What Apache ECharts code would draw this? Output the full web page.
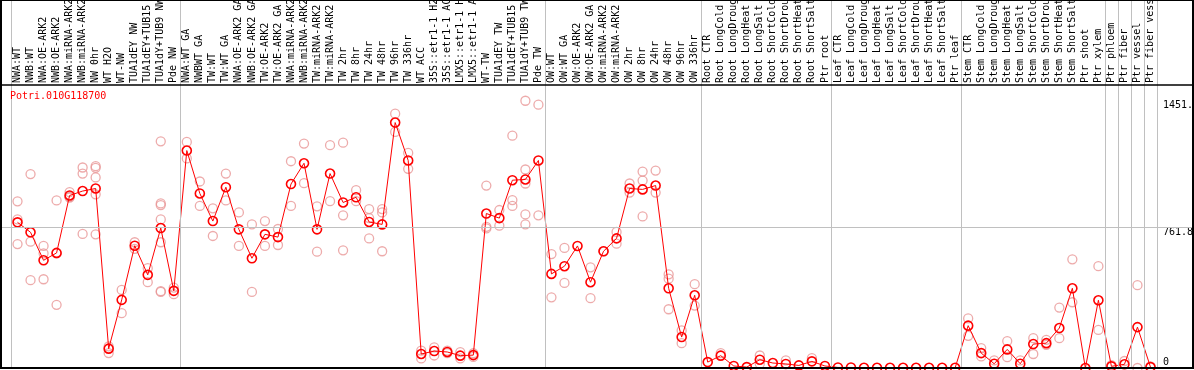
<!DOCTYPE html>
<html>
<head>
<meta charset="utf-8">
<script src="https://cdn.jsdelivr.net/npm/echarts@6/dist/echarts.min.js"></script>
<style>
html,body{margin:0;padding:0;background:#fff;}
#c{width:1194px;height:370px;}
</style>
</head>
<body>
<div id="c"></div>
<script>
const geneName = 'Potri.010G118700';

const categories = [
  'NWA:WT','NWB:WT','NWA:OE-ARK2','NWB:OE-ARK2','NWA:miRNA-ARK2','NWB:miRNA-ARK2','NW 0hr','WT H2O','WT-NW','TUA1dEY NW','TUA1dEY+TUB15 NW','TUA1dY+TUB9 NW','Pde NW',
  'NWA:WT GA','NWBWT GA','TW:WT','TW:WT GA','NWA:OE-ARK2 GA','NWB:OE-ARK2 GA','TW:OE-ARK2','TW:OE-ARK2 GA','NWA:miRNA-ARK2 GA','NWB:miRNA-ARK2 GA','TW:miRNA-ARK2','TW:miRNA-ARK2 GA','TW 2hr','TW 8hr','TW 24hr','TW 48hr','TW 96hr','TW 336hr','WT ACC','35S::etr1-1 H2O','35S::etr1-1 ACC','LMX5::etr1-1 H2O','LMX5::etr1-1 ACC','WT-TW','TUA1dEY TW','TUA1dEY+TUB15 TW','TUA1dY+TUB9 TW','Pde TW',
  'OW:WT','OW:WT GA','OW:OE-ARK2','OW:OE-ARK2 GA','OW:miRNA-ARK2','OW:miRNA-ARK2 GA','OW 2hr','OW 8hr','OW 24hr','OW 48hr','OW 96hr','OW 336hr',
  'Root CTR','Root LongCold','Root LongDrought','Root LongHeat','Root LongSalt','Root ShortCold','Root ShortDrought','Root ShortHeat','Root ShortSalt','Ptr root',
  'Leaf CTR','Leaf LongCold','Leaf LongDrought','Leaf LongHeat','Leaf LongSalt','Leaf ShortCold','Leaf ShortDrought','Leaf ShortHeat','Leaf ShortSalt','Ptr leaf',
  'Stem CTR','Stem LongCold','Stem LongDrought','Stem LongHeat','Stem LongSalt','Stem ShortCold','Stem ShortDrought','Stem ShortHeat','Stem ShortSalt','Ptr shoot','Ptr xylem',
  'Ptr phloem','Ptr fiber','Ptr vessel','Ptr fiber vessel'
];

// index of the first category of each group (vertical separators)
const groupStarts = [0, 13, 41, 53, 63, 73, 84, 85, 86, 87];

const meanValues = [
  791, 737, 585, 625, 937, 961, 975, 105, 370, 664, 506, 760, 419,
  1181, 948, 798, 982, 753, 596, 726, 711, 999, 1112, 753, 1056, 899, 927, 793, 780, 1333, 1127, 76, 92, 87, 67, 70, 839, 814, 1020, 1024, 1127,
  511, 553, 663, 466, 634, 704, 975, 970, 991, 433, 168, 395,
  32, 67, 11, 5, 45, 27, 22, 14, 36, 11,
  3, 3, 1, 1, 1, 1, 1, 1, 1, 1,
  230, 81, 23, 101, 23, 130, 135, 217, 433, 0, 368,
  9, 20, 222, 5
];

const replicateValues = [
  [905, 807, 673], [1053, 686, 477], [663, 623, 482], [910, 343, 622], [955, 930, 926], [1089, 1056, 728],
  [1096, 1087, 1035, 943, 726], [117, 81], [424, 298], [683, 647], [542, 466], [1231, 894, 885, 807, 683, 417, 413], [437, 401],
  [1228, 1138], [1013, 880], [867, 717], [1056, 910], [845, 663], [780, 413], [798, 663], [755, 668], [1123, 880], [1219, 1004],
  [878, 632], [1210, 906], [1224, 829, 639], [966, 906], [863, 814, 704], [863, 845, 634], [1381, 1282], [1168, 1082],
  [94, 52], [112, 68], [94, 81], [86, 52], [80, 60], [991, 767, 758], [858, 773], [1262, 912, 880], [1451.4, 1078, 1002, 834, 780], [1430, 829],
  [619, 384], [652, 462], [], [547, 379], [634], [739, 675], [1002, 953], [1067, 1018, 823], [1072, 953], [509, 485, 319], [204, 135], [455, 339],
  [], [81], [], [], [68, 23], [], [41], [], [54], [],
  [], [], [], [], [], [], [], [], [], [],
  [269, 175], [108, 63], [41], [146, 59], [41], [162, 76], [153, 126], [328, 162], [590, 357], [], [553, 207],
  [16], [38], [450, 0], [9]
];

const yTickLabels = [0, 761.8, 1451.4];
const yGridValue = 761.8;

// layout
const W = 1194;
const catLeft = 11, catRight = 37;
const plotLeft = 1, plotRight = 1, plotTop = 85, plotBottom = 2;
const n = categories.length;
const band = (W - catLeft - catRight) / n;
const xMin = -0.5 - (catLeft - plotLeft) / band;
const xMax = n - 0.5 + (catRight - plotRight) / band;
const yMax = 1537;

const mono = 'DejaVu Sans Mono';

const meanData = meanValues.map((v, i) => [i, v]);
const repData = [];
replicateValues.forEach((arr, i) => arr.forEach(v => repData.push([i, v])));
const boundaryLines = groupStarts.map(s => ({ xAxis: s - 0.5 })).concat([{ xAxis: n - 0.5 }]);

const chart = echarts.init(document.getElementById('c'), null, { renderer: 'canvas' });
chart.setOption({
  animation: false,
  backgroundColor: '#fff',
  title: {
    text: geneName, left: 10, top: 91, padding: 0,
    textStyle: { color: '#ff0000', fontFamily: mono, fontSize: 10, fontWeight: 'normal' }
  },
  grid: [
    { left: catLeft, right: catRight, top: 0, height: plotTop, containLabel: false, outerBoundsMode: 'none' },
    { left: plotLeft, right: plotRight, top: plotTop, bottom: plotBottom, containLabel: false, outerBoundsMode: 'none' }
  ],
  xAxis: [
    {
      gridIndex: 0, type: 'category', data: categories, position: 'bottom', boundaryGap: true,
      axisLine: { show: false }, axisTick: { show: false },
      axisLabel: { inside: true, rotate: 90, interval: 0, margin: 2, fontFamily: mono, fontSize: 10, color: '#000' },
      splitLine: { show: true, interval: (idx) => groupStarts.indexOf(idx) >= 0, lineStyle: { color: '#c0c0c0', width: 1 } }
    },
    {
      gridIndex: 1, type: 'value', min: xMin, max: xMax,
      axisLine: { show: false }, axisTick: { show: false }, axisLabel: { show: false }, splitLine: { show: false }
    }
  ],
  yAxis: [
    { gridIndex: 0, type: 'value', show: false },
    {
      gridIndex: 1, type: 'value', min: 0, max: yMax, position: 'right',
      axisLine: { show: false }, axisTick: { show: false }, splitLine: { show: false },
      axisLabel: {
        inside: true, margin: 30, align: 'left', customValues: yTickLabels,
        fontFamily: mono, fontSize: 10, color: '#000',
        formatter: v => (v === 0 ? '{b|0}' : '{t|' + v + '}'),
        rich: {
          t: { fontFamily: mono, fontSize: 10, color: '#000', padding: [10, 0, 0, 0] },
          b: { fontFamily: mono, fontSize: 10, color: '#000', padding: [0, 0, 12, 0] }
        }
      }
    }
  ],
  series: [
    {
      type: 'scatter', xAxisIndex: 1, yAxisIndex: 1, data: [], z: 1, silent: true,
      markLine: {
        silent: true, symbol: 'none', label: { show: false },
        lineStyle: { color: '#c0c0c0', width: 1, type: 'solid' },
        data: [{ yAxis: yGridValue }].concat(boundaryLines)
      }
    },
    {
      type: 'scatter', xAxisIndex: 1, yAxisIndex: 1, data: repData, z: 2, silent: true,
      symbol: 'circle', symbolSize: 9,
      itemStyle: { color: 'rgba(0,0,0,0)', borderColor: '#e89696', borderWidth: 1.3 }
    },
    {
      type: 'line', xAxisIndex: 1, yAxisIndex: 1, data: meanData, z: 3, silent: true,
      showAllSymbol: true, symbol: 'circle', symbolSize: 9,
      lineStyle: { color: '#ff0000', width: 1 },
      itemStyle: { color: 'rgba(0,0,0,0)', borderColor: '#ff0000', borderWidth: 1.6 }
    }
  ],
  graphic: [
    { type: 'rect', z: 100, silent: true, shape: { x: 1, y: 0, width: 1192, height: 368 }, style: { fill: 'none', stroke: '#000', lineWidth: 2 } },
    { type: 'line', z: 100, silent: true, shape: { x1: 1, y1: 85, x2: 1193, y2: 85 }, style: { stroke: '#000', lineWidth: 1.5 } }
  ]
});
</script>
</body>
</html>
